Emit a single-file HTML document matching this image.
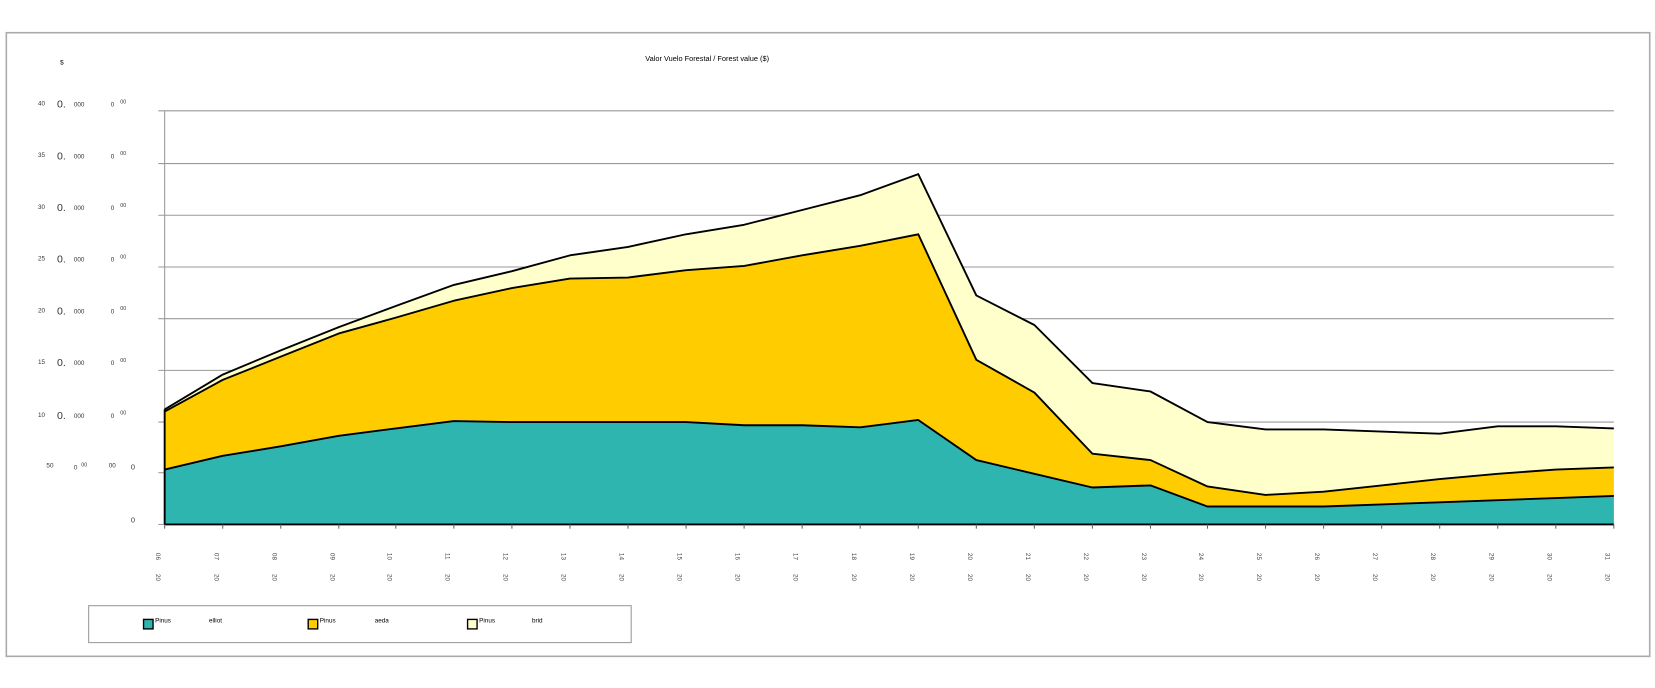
<!DOCTYPE html>
<html><head><meta charset="utf-8"><style>html,body{margin:0;padding:0;background:#fff}svg{display:block}</style></head>
<body>
<svg width="1655" height="688" viewBox="0 0 1568 652" preserveAspectRatio="none" xmlns="http://www.w3.org/2000/svg" font-family="Liberation Sans, sans-serif">
<rect x="0" y="0" width="1568" height="652" fill="#fff"/>
<rect x="6" y="31" width="1557" height="591" fill="none" stroke="#aaa" stroke-width="1.5"/>
<text x="670" y="58" font-size="7" text-anchor="middle" fill="#000">Valor Vuelo Forestal / Forest value ($)</text>
<text x="57" y="61" font-size="6" fill="#000">$</text>
<g stroke="#999" stroke-width="1">
<line x1="150" y1="105" x2="1529" y2="105"/><line x1="150" y1="155" x2="1529" y2="155"/>
<line x1="150" y1="204" x2="1529" y2="204"/><line x1="150" y1="253" x2="1529" y2="253"/>
<line x1="150" y1="302" x2="1529" y2="302"/><line x1="150" y1="351" x2="1529" y2="351"/>
<line x1="150" y1="400" x2="1529" y2="400"/><line x1="150" y1="448" x2="156" y2="448"/>
<line x1="150" y1="497" x2="156" y2="497"/>
<line x1="156" y1="105" x2="156" y2="497"/>
</g>
<polygon fill="#ffffcc" points="156,497 156,388 211,355 266,332 321,310 375,290 430,270 485,257 540,242 595,234 650,222 705,213 760,199 815,185 870,165 925,280 980,308 1035,363 1090,371 1144,400 1199,407 1254,407 1309,409 1364,411 1419,404 1474,404 1529,406 1529,497"/>
<polygon fill="#ffcc00" points="156,497 156,390 211,360 266,338 321,316 375,301 430,285 485,273 540,264 595,263 650,256 705,252 760,242 815,233 870,222 925,341 980,372 1035,430 1090,436 1144,461 1199,469 1254,466 1309,460 1364,454 1419,449 1474,445 1529,443 1529,497"/>
<polygon fill="#2eb5b0" points="156,497 156,445 211,432 266,423 321,413 375,406 430,399 485,400 540,400 595,400 650,400 705,403 760,403 815,405 870,398 925,436 980,449 1035,462 1090,460 1144,480 1199,480 1254,480 1309,478 1364,476 1419,474 1474,472 1529,470 1529,497"/>
<g fill="none" stroke="#000" stroke-width="1.8" stroke-linejoin="round">
<polyline points="156,388 211,355 266,332 321,310 375,290 430,270 485,257 540,242 595,234 650,222 705,213 760,199 815,185 870,165 925,280 980,308 1035,363 1090,371 1144,400 1199,407 1254,407 1309,409 1364,411 1419,404 1474,404 1529,406"/>
<polyline points="156,390 211,360 266,338 321,316 375,301 430,285 485,273 540,264 595,263 650,256 705,252 760,242 815,233 870,222 925,341 980,372 1035,430 1090,436 1144,461 1199,469 1254,466 1309,460 1364,454 1419,449 1474,445 1529,443"/>
<polyline points="156,445 211,432 266,423 321,413 375,406 430,399 485,400 540,400 595,400 650,400 705,403 760,403 815,405 870,398 925,436 980,449 1035,462 1090,460 1144,480 1199,480 1254,480 1309,478 1364,476 1419,474 1474,472 1529,470"/>
<polyline points="156,497 156,388"/>
<line x1="156" y1="497" x2="1529" y2="497"/>
</g>
<g fill="#333" font-size="6">
<text x="36" y="100">40</text><text x="36" y="149">35</text><text x="36" y="198">30</text><text x="36" y="247">25</text><text x="36" y="296">20</text><text x="36" y="345">15</text><text x="36" y="395">10</text>
<text x="70" y="101">000</text><text x="70" y="150">000</text><text x="70" y="199">000</text><text x="70" y="248">000</text><text x="70" y="297">000</text><text x="70" y="346">000</text><text x="70" y="396">000</text>
<text x="105" y="101">0</text><text x="105" y="150">0</text><text x="105" y="199">0</text><text x="105" y="248">0</text><text x="105" y="297">0</text><text x="105" y="346">0</text><text x="105" y="396">0</text>
<text x="114" y="98" font-size="5">00</text><text x="114" y="147" font-size="5">00</text><text x="114" y="196" font-size="5">00</text><text x="114" y="245" font-size="5">00</text><text x="114" y="294" font-size="5">00</text><text x="114" y="343" font-size="5">00</text><text x="114" y="393" font-size="5">00</text>
<text x="44" y="443">50</text><text x="70" y="445">0</text><text x="77" y="442" font-size="5">00</text><text x="103" y="443">00</text><text x="124" y="445" font-size="7">0</text>
<text x="124" y="495" font-size="7">0</text>
</g>
<g fill="#333" font-size="10">
<text x="54" y="102">0.</text><text x="54" y="151">0.</text><text x="54" y="200">0.</text><text x="54" y="249">0.</text><text x="54" y="298">0.</text><text x="54" y="347">0.</text><text x="54" y="397">0.</text>
</g>
<g stroke="#666">
<line x1="156" y1="497" x2="156" y2="501"/><line x1="211" y1="497" x2="211" y2="501"/><line x1="266" y1="497" x2="266" y2="501"/><line x1="321" y1="497" x2="321" y2="501"/><line x1="375" y1="497" x2="375" y2="501"/><line x1="430" y1="497" x2="430" y2="501"/><line x1="485" y1="497" x2="485" y2="501"/><line x1="540" y1="497" x2="540" y2="501"/><line x1="595" y1="497" x2="595" y2="501"/><line x1="650" y1="497" x2="650" y2="501"/><line x1="705" y1="497" x2="705" y2="501"/><line x1="760" y1="497" x2="760" y2="501"/><line x1="815" y1="497" x2="815" y2="501"/><line x1="870" y1="497" x2="870" y2="501"/><line x1="925" y1="497" x2="925" y2="501"/><line x1="980" y1="497" x2="980" y2="501"/><line x1="1035" y1="497" x2="1035" y2="501"/><line x1="1090" y1="497" x2="1090" y2="501"/><line x1="1144" y1="497" x2="1144" y2="501"/><line x1="1199" y1="497" x2="1199" y2="501"/><line x1="1254" y1="497" x2="1254" y2="501"/><line x1="1309" y1="497" x2="1309" y2="501"/><line x1="1364" y1="497" x2="1364" y2="501"/><line x1="1419" y1="497" x2="1419" y2="501"/><line x1="1474" y1="497" x2="1474" y2="501"/><line x1="1529" y1="497" x2="1529" y2="501"/>
</g>
<g fill="#444" font-size="6">
<text transform="translate(148,524) rotate(90)">06</text><text transform="translate(203,524) rotate(90)">07</text><text transform="translate(258,524) rotate(90)">08</text><text transform="translate(313,524) rotate(90)">09</text><text transform="translate(367,524) rotate(90)">10</text><text transform="translate(422,524) rotate(90)">11</text><text transform="translate(477,524) rotate(90)">12</text><text transform="translate(532,524) rotate(90)">13</text><text transform="translate(587,524) rotate(90)">14</text><text transform="translate(642,524) rotate(90)">15</text><text transform="translate(697,524) rotate(90)">16</text><text transform="translate(752,524) rotate(90)">17</text><text transform="translate(807,524) rotate(90)">18</text><text transform="translate(862,524) rotate(90)">19</text><text transform="translate(917,524) rotate(90)">20</text><text transform="translate(972,524) rotate(90)">21</text><text transform="translate(1027,524) rotate(90)">22</text><text transform="translate(1082,524) rotate(90)">23</text><text transform="translate(1136,524) rotate(90)">24</text><text transform="translate(1191,524) rotate(90)">25</text><text transform="translate(1246,524) rotate(90)">26</text><text transform="translate(1301,524) rotate(90)">27</text><text transform="translate(1356,524) rotate(90)">28</text><text transform="translate(1411,524) rotate(90)">29</text><text transform="translate(1466,524) rotate(90)">30</text><text transform="translate(1521,524) rotate(90)">31</text>
<text transform="translate(148,544) rotate(90)">20</text><text transform="translate(203,544) rotate(90)">20</text><text transform="translate(258,544) rotate(90)">20</text><text transform="translate(313,544) rotate(90)">20</text><text transform="translate(367,544) rotate(90)">20</text><text transform="translate(422,544) rotate(90)">20</text><text transform="translate(477,544) rotate(90)">20</text><text transform="translate(532,544) rotate(90)">20</text><text transform="translate(587,544) rotate(90)">20</text><text transform="translate(642,544) rotate(90)">20</text><text transform="translate(697,544) rotate(90)">20</text><text transform="translate(752,544) rotate(90)">20</text><text transform="translate(807,544) rotate(90)">20</text><text transform="translate(862,544) rotate(90)">20</text><text transform="translate(917,544) rotate(90)">20</text><text transform="translate(972,544) rotate(90)">20</text><text transform="translate(1027,544) rotate(90)">20</text><text transform="translate(1082,544) rotate(90)">20</text><text transform="translate(1136,544) rotate(90)">20</text><text transform="translate(1191,544) rotate(90)">20</text><text transform="translate(1246,544) rotate(90)">20</text><text transform="translate(1301,544) rotate(90)">20</text><text transform="translate(1356,544) rotate(90)">20</text><text transform="translate(1411,544) rotate(90)">20</text><text transform="translate(1466,544) rotate(90)">20</text><text transform="translate(1521,544) rotate(90)">20</text>
</g>
<rect x="84" y="574" width="514" height="35" fill="none" stroke="#999"/>
<rect x="136" y="587" width="9" height="9" fill="#2eb5b0" stroke="#000" stroke-width="1.3"/>
<rect x="292" y="587" width="9" height="9" fill="#ffcc00" stroke="#000" stroke-width="1.3"/>
<rect x="443" y="587" width="9" height="9" fill="#ffffcc" stroke="#000" stroke-width="1.3"/>
<g font-size="6" fill="#000"><text x="147" y="590">Pinus</text><text x="198" y="590">elliot</text><text x="303" y="590">Pinus</text><text x="355" y="590">aeda</text><text x="454" y="590">Pinus</text><text x="504" y="590">brid</text></g>
</svg>
</body></html>
